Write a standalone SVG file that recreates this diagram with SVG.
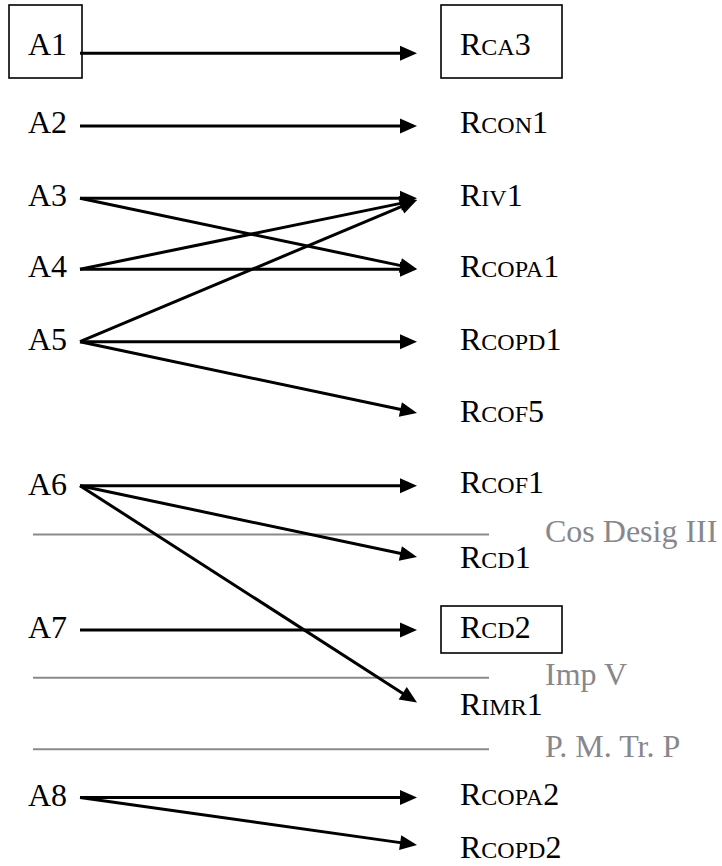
<svg xmlns="http://www.w3.org/2000/svg" width="722" height="866" viewBox="0 0 722 866">
<style>
text{font-family:"Liberation Serif","Times New Roman",serif;font-size:32px;fill:#000}
.sc{font-size:24px}
.g{fill:#87878d}
.box{fill:none;stroke:#000;stroke-width:1.6}
.sep{stroke:#8a8a8e;stroke-width:2}
.c{stroke:#000;stroke-width:3;fill:none;marker-end:url(#ah)}
</style>
<defs>
<marker id="ah" markerUnits="userSpaceOnUse" markerWidth="18" markerHeight="16" refX="9" refY="7.5" orient="auto" overflow="visible">
<path d="M0,0 L17,7.5 L0,15 z" fill="#000"/>
</marker>
</defs>
<rect width="722" height="866" fill="#fff"/>
<g id="separators">
<line class="sep" x1="33" y1="534.5" x2="489" y2="534.5"/>
<line class="sep" x1="33" y1="677.7" x2="489" y2="677.7"/>
<line class="sep" x1="33" y1="749.3" x2="489" y2="749.3"/>
<text class="g" x="545" y="542">Cos Desig III</text>
<text class="g" x="545" y="685">Imp V</text>
<text class="g" x="545" y="757">P. M. Tr. P</text>
</g>
<g id="connectors">
<line class="c" x1="80" y1="53.3" x2="409" y2="53.3"/>
<line class="c" x1="80" y1="126" x2="409" y2="126"/>
<line class="c" x1="80" y1="198.3" x2="409" y2="198.3"/>
<line class="c" x1="80" y1="198.3" x2="409.17" y2="267.36"/>
<line class="c" x1="80" y1="269.3" x2="409.16" y2="201.61"/>
<line class="c" x1="80" y1="269.3" x2="409" y2="269.3"/>
<line class="c" x1="80" y1="341.7" x2="409.63" y2="203.1"/>
<line class="c" x1="80" y1="341.7" x2="409" y2="341.7"/>
<line class="c" x1="80" y1="341.7" x2="409.17" y2="411.34"/>
<line class="c" x1="80" y1="485.7" x2="409" y2="485.7"/>
<line class="c" x1="80" y1="485.7" x2="409.17" y2="555.34"/>
<line class="c" x1="80" y1="485.7" x2="410.27" y2="698.17"/>
<line class="c" x1="80" y1="630" x2="409" y2="630"/>
<line class="c" x1="80" y1="797.5" x2="409" y2="797.5"/>
<line class="c" x1="80" y1="797.5" x2="409.08" y2="843.88"/>
</g>
<g id="A1"><rect class="box" x="9" y="5" width="73" height="73"/><text x="28" y="55">A1</text></g>
<g id="A2"><text x="28" y="133">A2</text></g>
<g id="A3"><text x="28" y="206">A3</text></g>
<g id="A4"><text x="28" y="277">A4</text></g>
<g id="A5"><text x="28" y="350">A5</text></g>
<g id="A6"><text x="28" y="495">A6</text></g>
<g id="A7"><text x="28" y="638">A7</text></g>
<g id="A8"><text x="28" y="806">A8</text></g>
<g id="RCA3"><rect class="box" x="441" y="5" width="121" height="73"/><text x="460" y="55">R<tspan class="sc">CA</tspan>3</text></g>
<g id="RCON1"><text x="460" y="133">R<tspan class="sc">CON</tspan>1</text></g>
<g id="RIV1"><text x="460" y="206">R<tspan class="sc">IV</tspan>1</text></g>
<g id="RCOPA1"><text x="460" y="277">R<tspan class="sc">COPA</tspan>1</text></g>
<g id="RCOPD1"><text x="460" y="350">R<tspan class="sc">COPD</tspan>1</text></g>
<g id="RCOF5"><text x="460" y="422">R<tspan class="sc">COF</tspan>5</text></g>
<g id="RCOF1"><text x="460" y="493">R<tspan class="sc">COF</tspan>1</text></g>
<g id="RCD1"><text x="460" y="568">R<tspan class="sc">CD</tspan>1</text></g>
<g id="RCD2"><rect class="box" x="441" y="606" width="121" height="47"/><text x="460" y="638">R<tspan class="sc">CD</tspan>2</text></g>
<g id="RIMR1"><text x="460" y="715">R<tspan class="sc">IMR</tspan>1</text></g>
<g id="RCOPA2"><text x="460" y="805">R<tspan class="sc">COPA</tspan>2</text></g>
<g id="RCOPD2"><text x="460" y="858">R<tspan class="sc">COPD</tspan>2</text></g>
</svg>
